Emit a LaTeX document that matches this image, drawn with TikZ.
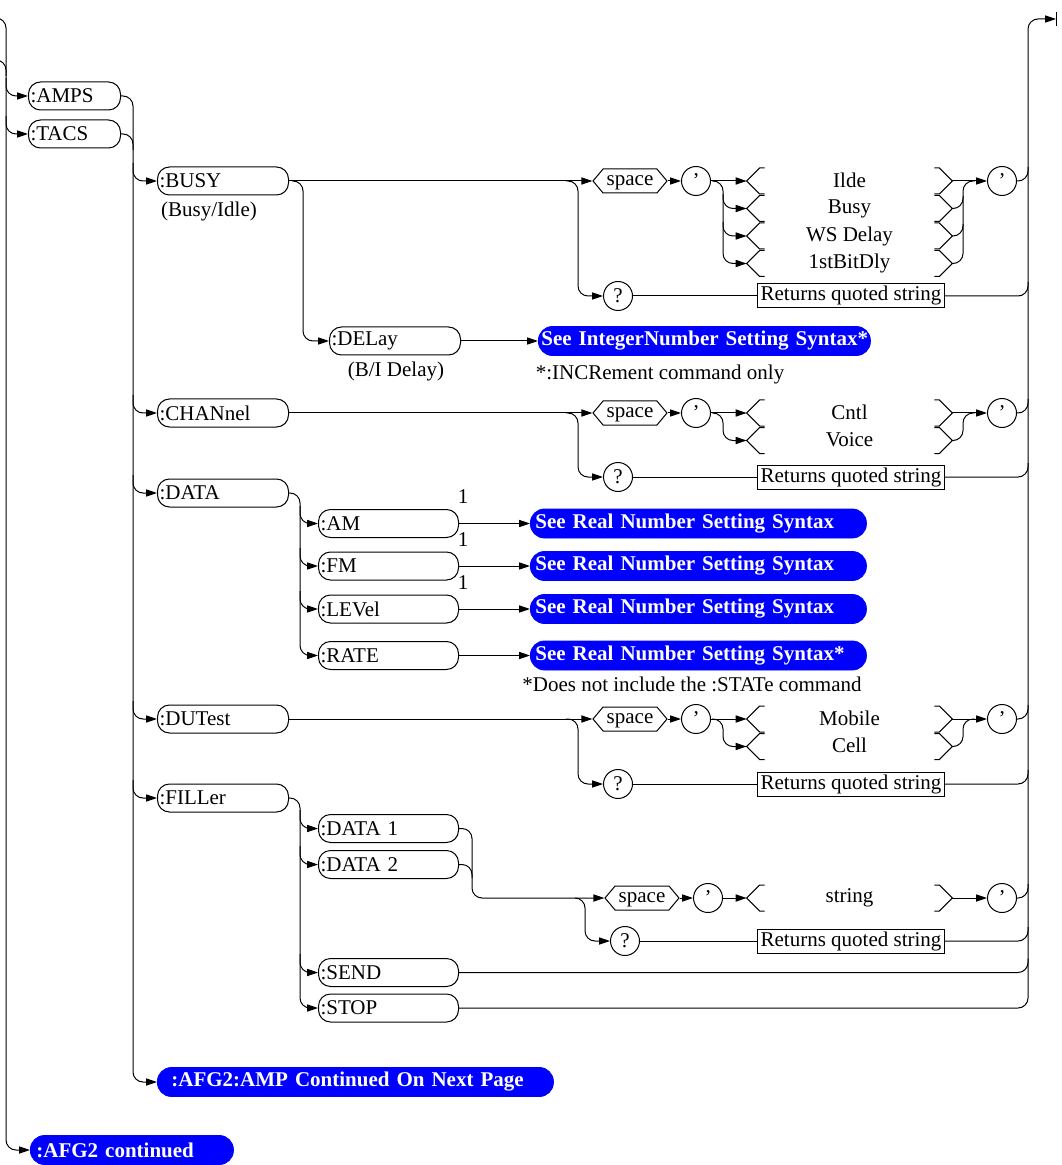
\documentclass[tikz,border=0pt]{standalone}
\usepackage{fontspec}
\setmainfont{Liberation Serif}
\usepackage{tikz}
\usetikzlibrary{arrows.meta, shapes.symbols, positioning}

% left and right angle marks round one choice
\newcommand\choicemarks[1]{%
  \draw[chev] ([shift={(9pt,6.5pt)}]#1.west) -- ++(-2.5pt,0pt) -- (#1.west)
    -- ++(6.5pt,-6.5pt) -- ++(2.5pt,0pt);
  \draw[chev] ([shift={(-9pt,6.5pt)}]#1.east) -- ++(2.5pt,0pt) -- (#1.east)
    -- ++(-6.5pt,-6.5pt) -- ++(-2.5pt,0pt);}

\begin{document}
\begin{tikzpicture}[
  x=0.5pt, y=-0.5pt,
  every node/.style={font=\fontsize{10.5}{12}\selectfont},
  link/.style={draw, line width=0.5pt, rounded corners=5pt},
  arr/.style={link, -{Triangle[length=5.5pt, width=3.6pt]}},
  chev/.style={line width=0.5pt},
  cmdbox/.style={draw, line width=0.5pt, rounded corners=6pt, anchor=west,
    minimum height=14pt, inner xsep=1pt, inner ysep=0pt, align=left},
  topcmd/.style={cmdbox, text width=44pt},
  midcmd/.style={cmdbox, text width=63.5pt},
  subcmd/.style={cmdbox, text width=68pt},
  seebox/.style={fill=blue, draw=blue, text=white, rounded corners=7pt, anchor=west,
    font=\fontsize{10.5}{12}\selectfont\bfseries, minimum height=14.5pt,
    inner ysep=0pt, inner xsep=2.5pt, align=left},
  spacebox/.style={draw, line width=0.5pt, signal, signal to=east and west,
    signal pointer angle=100, minimum width=37pt, text height=7pt, text depth=2.5pt,
    inner xsep=0pt, inner ysep=1.25pt},
  punct/.style={draw, line width=0.5pt, circle, minimum size=14.5pt, inner sep=0pt},
  retbox/.style={draw, line width=0.5pt, minimum width=93.5pt, text height=8pt,
    text depth=3pt, inner xsep=1pt, inner ysep=0.5pt},
  choice/.style={minimum width=102.5pt, minimum height=13pt, inner sep=0pt},
  choicetext/.style={yshift=1pt},
  note/.style={inner sep=0pt}
]
\useasboundingbox (0,0) rectangle (1061,1165);

% top level
\node[topcmd] (amps) at (28,96) {:AMPS};
\node[topcmd] (tacs) at (28,134) {:TACS};
\node[seebox, text width=95.5pt, inner xsep=3pt] (afgcont) at (30,1150) {:AFG2 continued};
\node[seebox, text width=184pt, inner xsep=7pt] (afgamp) at (157,1082) {:AFG2:AMP Continued On Next Page};

% :BUSY
\node[midcmd] (busy) at (157,181) {:BUSY};
\node[note] (busylbl) at (209,211) {(Busy/Idle)};
\node[midcmd] (delay) at (329,341) {:DELay};
\node[note] (delaylbl) at (396,371) {(B/I Delay)};
\node[seebox, text width=163pt, inner xsep=1.5pt] (intsyn) at (538,341) {\mbox{See IntegerNumber Setting Syntax*}};
\node[note] (incnote) at (660,374) {*:INCRement command only};
\node[spacebox] (spbusy) at (630,181) {space};
\node[punct] (qlbusy) at (696,181) {'};
\node[choice] (ilde) at (849.5,181) {\raisebox{1pt}{Ilde}};
\node[choice] (bsy) at (849.5,208.5) {\raisebox{1pt}{Busy}};
\node[choice] (wsd) at (849.5,236) {\raisebox{1pt}{WS Delay}};
\node[choice] (bitd) at (849.5,263.5) {\raisebox{1pt}{1stBitDly}};
\node[punct] (qrbusy) at (1002,181) {'};
\node[punct] (askbusy) at (618,296) {?};
\node[retbox] (retbusy) at (851,296) {Returns quoted string};

% :CHANnel
\node[midcmd] (chan) at (157,413) {:CHANnel};
\node[spacebox] (spchan) at (630,413) {space};
\node[punct] (qlchan) at (696,413) {'};
\node[choice] (cntl) at (849.5,413) {\raisebox{1pt}{Cntl}};
\node[choice] (voice) at (849.5,440.5) {\raisebox{1pt}{Voice}};
\node[punct] (qrchan) at (1002,413) {'};
\node[punct] (askchan) at (618,477) {?};
\node[retbox] (retchan) at (851,477) {Returns quoted string};

% :DATA
\node[midcmd] (data) at (157,493) {:DATA};
\node[subcmd] (am) at (318,523.5) {:AM};
\node[subcmd] (fm) at (318,566) {:FM};
\node[subcmd] (lev) at (318,609) {:LEVel};
\node[subcmd] (rate) at (318,655.5) {:RATE};
\foreach \n/\y/\t in {am/523.5/, fm/566/, lev/609/, rate/655.5/*}
  \node[seebox, text width=163pt] (syn\n) at (530,\y) {\mbox{See Real Number Setting Syntax\t}};
\node[note] (oneam) at (463,497) {1};
\node[note] (onefm) at (463,540) {1};
\node[note] (onelev) at (463,583) {1};
\node[note] (statenote) at (692,684) {*Does not include the :STATe command};

% :DUTest
\node[midcmd] (dut) at (157,719) {:DUTest};
\node[spacebox] (spdut) at (630,719) {space};
\node[punct] (qldut) at (696,719) {'};
\node[choice] (mobile) at (849.5,719) {\raisebox{1pt}{Mobile}};
\node[choice] (cell) at (849.5,746.5) {\raisebox{1pt}{Cell}};
\node[punct] (qrdut) at (1002,719) {'};
\node[punct] (askdut) at (618,784) {?};
\node[retbox] (retdut) at (851,784) {Returns quoted string};

% :FILLer
\node[midcmd] (filler) at (157,798) {:FILLer};
\node[subcmd] (dataone) at (318,828.5) {:DATA 1};
\node[subcmd] (datatwo) at (318,864.5) {:DATA 2};
\node[subcmd] (send) at (318,972.5) {:SEND};
\node[subcmd] (stop) at (318,1008) {:STOP};
\node[spacebox] (spfill) at (642,898) {space};
\node[punct] (qlfill) at (708,898) {'};
\node[choice] (str) at (849.5,898) {\raisebox{1pt}{string}};
\node[punct] (qrfill) at (1002,898) {'};
\node[punct] (askfill) at (625,941) {?};
\node[retbox] (retfill) at (851,941) {Returns quoted string};

\foreach \c in {ilde,bsy,wsd,bitd,cntl,voice,mobile,cell,str} \choicemarks{\c};

% rails
\draw[arr] (-10,18) -- (6,18) -- (6,1150) -- (afgcont.west);
\draw[link] (-10,60) -- (6,60) -- (6,76);
\draw[arr] (6,78) |- (amps.west);
\draw[arr] (6,116) |- (tacs.west);
\draw[arr] (amps.east) -- (133,96) -- (133,1082) -- (afgamp.west);
\draw[link] (tacs.east) -- (133,134) -- (133,150);
\foreach \n/\y in {busy/181, chan/413, data/493, dut/719, filler/798}
  \draw[arr] (133,\y-18) |- (\n.west);

\coordinate (exit) at (1056,19);
\draw[arr] (stop.east) -- (1028,1008) -- (1028,19) -- (exit);
\draw[line width=0.5pt] ([yshift=-3.5pt]exit) -- ([yshift=3.5pt]exit);
\foreach \n/\y in {qrbusy/181, retbusy/296, qrchan/413, retchan/477, qrdut/719,
    retdut/784, qrfill/898, retfill/941, send/972.5}
  \draw[link] (\n.east) -- (1028,\y) -- (1028,\y-14);

% busy
\draw[arr] (busy.east) -- (spbusy.west);
\draw[arr] (566,181) -- (578,181) |- (askbusy.west);
\draw[arr] (292,181) -- (303,181) |- (delay.west);
\draw[arr] (delay.east) -- (intsyn.west);
\draw[arr] (spbusy.east) -- (qlbusy.west);
\draw[arr] (qlbusy.east) -- (ilde.west);
\draw[arr] (712,181) -- (723,181) |- (bitd.west);
\draw[arr] (723,194) |- (bsy.west);
\draw[arr] (723,222) |- (wsd.west);
\draw[arr] (ilde.east) -- (qrbusy.west);
\draw[link] (bitd.east) -- (963,263.5) -- (963,181) -- (975,181);
\draw[link] (bsy.east) -- (963,208.5) -- (963,196);
\draw[link] (wsd.east) -- (963,236) -- (963,224);
\draw[link] (askbusy.east) -- (retbusy.west);

% chan
\draw[arr] (chan.east) -- (spchan.west);
\draw[arr] (566,413) -- (578,413) |- (askchan.west);
\draw[arr] (spchan.east) -- (qlchan.west);
\draw[arr] (qlchan.east) -- (cntl.west);
\draw[arr] (712,413) -- (723,413) |- (voice.west);
\draw[arr] (cntl.east) -- (qrchan.west);
\draw[link] (voice.east) -- (963,440.5) -- (963,413) -- (975,413);
\draw[link] (askchan.east) -- (retchan.west);

% data
\draw[arr] (data.east) -- (300,493) |- (rate.west);
\draw[arr] (300,506) |- (am.west);
\draw[arr] (300,548) |- (fm.west);
\draw[arr] (300,591) |- (lev.west);
\foreach \n in {am,fm,lev,rate}
  \draw[arr] (\n.east) -- (syn\n.west);

% dut
\draw[arr] (dut.east) -- (spdut.west);
\draw[arr] (566,719) -- (578,719) |- (askdut.west);
\draw[arr] (spdut.east) -- (qldut.west);
\draw[arr] (qldut.east) -- (mobile.west);
\draw[arr] (712,719) -- (723,719) |- (cell.west);
\draw[arr] (mobile.east) -- (qrdut.west);
\draw[link] (cell.east) -- (963,746.5) -- (963,719) -- (975,719);
\draw[link] (askdut.east) -- (retdut.west);

% filler
\draw[arr] (filler.east) -- (300,798) |- (stop.west);
\draw[arr] (300,810) |- (dataone.west);
\draw[arr] (300,846) |- (datatwo.west);
\draw[arr] (300,954) |- (send.west);
\draw[arr] (dataone.east) -- (472,828.5) |- (spfill.west);
\draw[link] (datatwo.east) -- (472,864.5) -- (472,878);
\draw[arr] (575,898) -- (585,898) |- (askfill.west);
\draw[arr] (spfill.east) -- (qlfill.west);
\draw[arr] (qlfill.east) -- (str.west);
\draw[arr] (str.east) -- (qrfill.west);
\draw[link] (askfill.east) -- (retfill.west);
\end{tikzpicture}
\end{document}
